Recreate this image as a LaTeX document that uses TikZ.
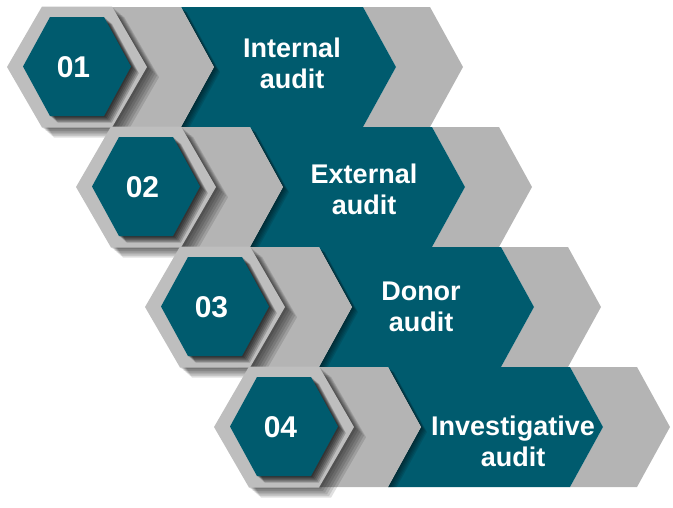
\documentclass[tikz,border=0pt]{standalone}
\usepackage{fontspec}
\setmainfont{Liberation Sans}
\definecolor{tealmain}{HTML}{005B6E}
\definecolor{chevgray}{HTML}{B4B4B4}
\definecolor{hexgray}{HTML}{BEBEBE}
\newcommand\hexpath[4]{(#1-#3,#2) -- (#1-#3/2,#2-#4) -- (#1+#3/2,#2-#4) -- (#1+#3,#2) -- (#1+#3/2,#2+#4) -- (#1-#3/2,#2+#4) -- cycle}
\newcommand\softshade[3]{% #1 path, #2 step, #3 opacity
  \foreach \kk in {1,...,6}{\fill[black,opacity=#3,shift={(\kk*#2,\kk*#2*0.85)}] #1;}}
\newcommand\auditrow[5]{%
  \begin{scope}[shift={(#1*69,#1*120)}]
    \fill[chevgray] (363,7) -- (430,7) -- (463,67) -- (430,127) -- (363,127) -- (396,67) -- cycle;
    \fill[tealmain] (181,7) -- (363,7) -- (396,67) -- (363,127) -- (181,127) -- (214,67) -- cycle;
    \begin{scope}
      \clip (181,7) -- (363,7) -- (396,67) -- (363,127) -- (181,127) -- (214,67) -- cycle;
      \softshade{(100,7) -- (181,7) -- (214,67) -- (181,127) -- (100,127) -- cycle}{1}{0.1}
    \end{scope}
    \fill[chevgray] (100,7) -- (181,7) -- (214,67) -- (181,127) -- (100,127) -- cycle;
    \softshade{\hexpath{77}{67}{70}{60.5}}{2}{0.12}
    \fill[hexgray] \hexpath{77}{67}{70}{60.5};
    \softshade{\hexpath{77}{66.5}{54}{49.5}}{1.3}{0.19}
    \fill[tealmain] \hexpath{77}{66.5}{54}{49.5};
    \node[numtext] (num#2) at (73.5,67) {#2};
  \end{scope}
  \node[labeltext] (label#2) at (#4,#5) {#3};
}
\begin{document}
\begin{tikzpicture}[x=1pt,y=-1pt,
  numtext/.style={text=white,font=\fontsize{30}{30}\selectfont\bfseries,inner sep=0pt},
  labeltext/.style={text=white,font=\fontsize{27}{31}\selectfont\bfseries,align=center,inner sep=0pt}]
\useasboundingbox (0,0) rectangle (673,507);
\auditrow{0}{01}{Internal\\audit}{292}{63}
\auditrow{1}{02}{External\\audit}{364}{189}
\auditrow{2}{03}{Donor\\audit}{421}{307}
\auditrow{3}{04}{Investigative\\audit}{513}{441}
\end{tikzpicture}
\end{document}
